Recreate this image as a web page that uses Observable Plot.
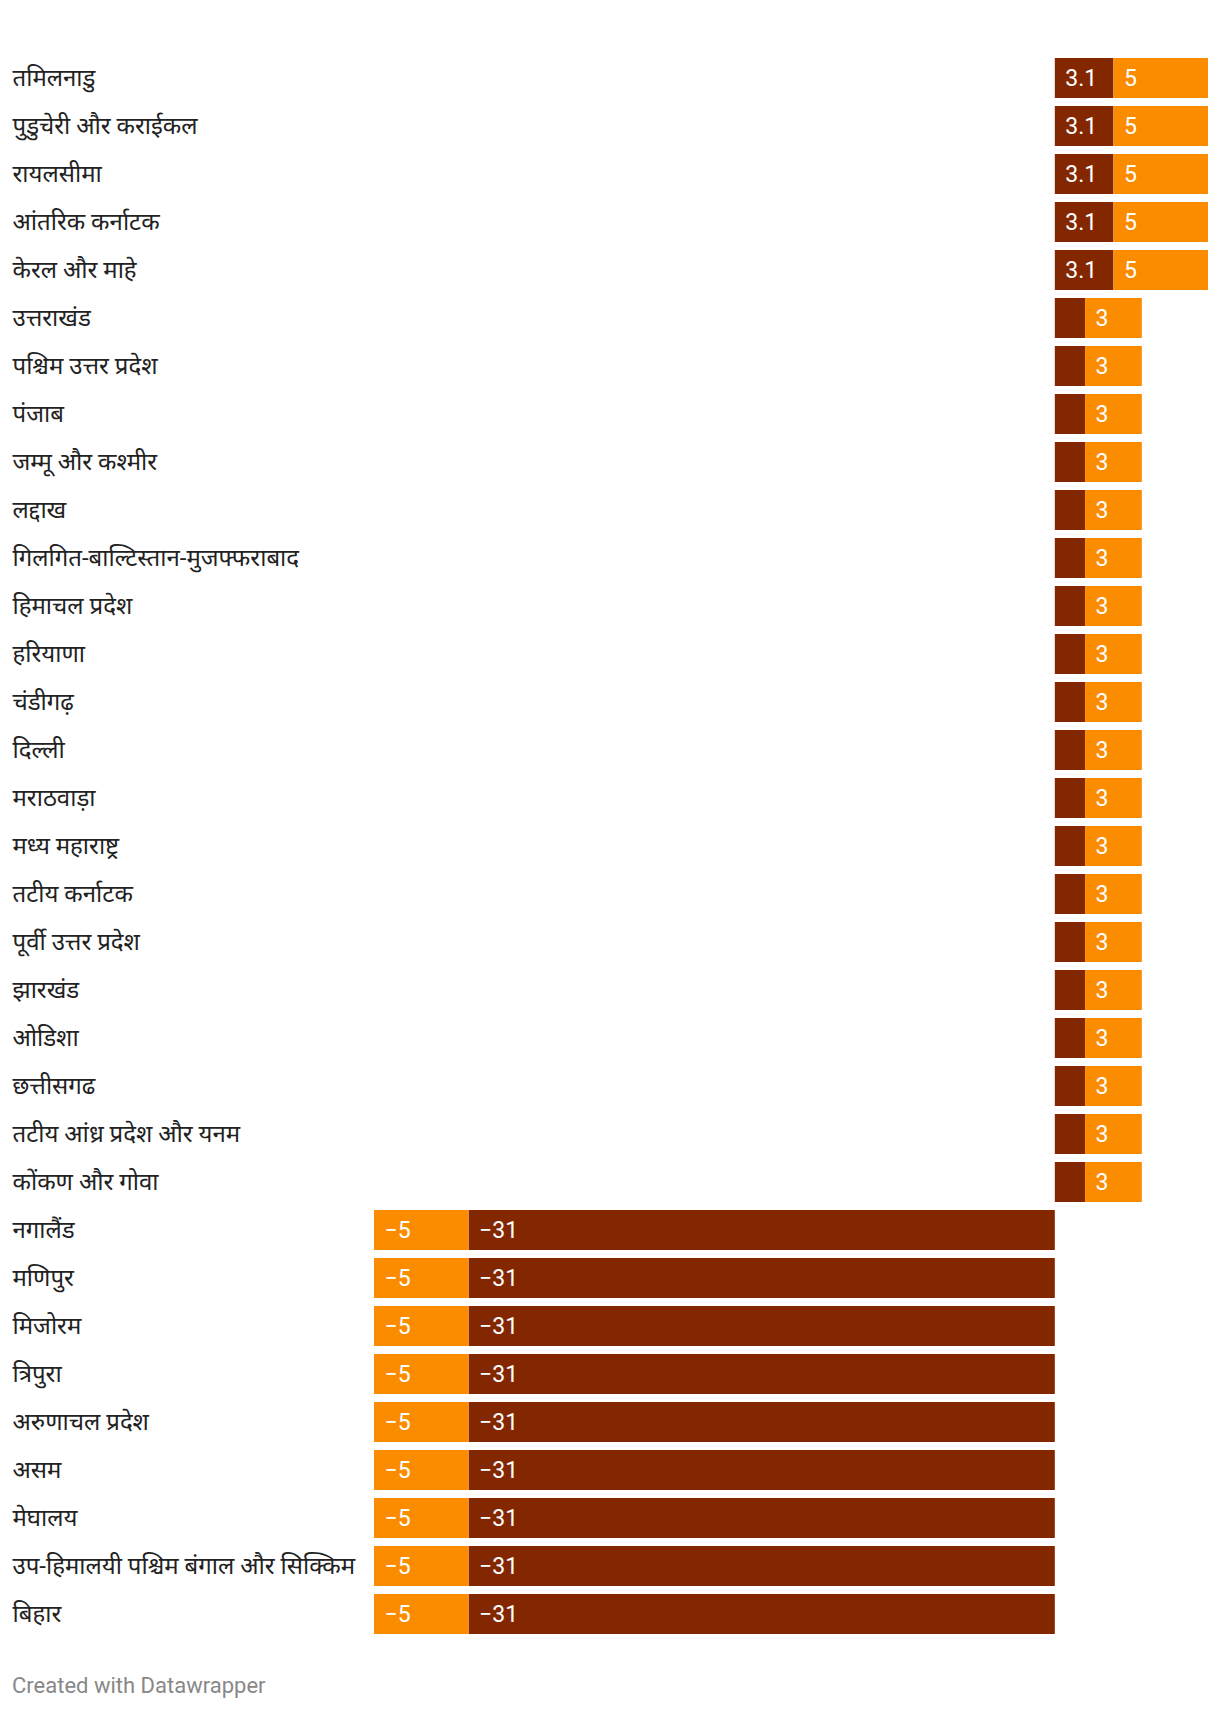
<!DOCTYPE html>
<html><head><meta charset="utf-8">
<script src="https://cdn.jsdelivr.net/npm/d3@7"></script>
<script src="https://cdn.jsdelivr.net/npm/@observablehq/plot@0.6"></script>
<style>
body{margin:0;background:#fff;font-family:Roboto,sans-serif}
#caption{margin:8px 0 0 12px;font-size:22px;line-height:24px;color:#888;font-family:Roboto,sans-serif}
</style>
</head><body><div id="chart"></div><div id="caption">Created with Datawrapper</div>
<script>
const regions = [
  "तमिलनाडु","पुडुचेरी और कराईकल","रायलसीमा","आंतरिक कर्नाटक","केरल और माहे",
  "उत्तराखंड","पश्चिम उत्तर प्रदेश","पंजाब","जम्मू और कश्मीर","लद्दाख",
  "गिलगित-बाल्टिस्तान-मुजफ्फराबाद","हिमाचल प्रदेश","हरियाणा","चंडीगढ़","दिल्ली",
  "मराठवाड़ा","मध्य महाराष्ट्र","तटीय कर्नाटक","पूर्वी उत्तर प्रदेश","झारखंड",
  "ओडिशा","छत्तीसगढ","तटीय आंध्र प्रदेश और यनम","कोंकण और गोवा",
  "नगालैंड","मणिपुर","मिजोरम","त्रिपुरा","अरुणाचल प्रदेश","असम","मेघालय",
  "उप-हिमालयी पश्चिम बंगाल और सिक्किम","बिहार"
];
const darkValues = [3.1,3.1,3.1,3.1,3.1,
  1.6,1.6,1.6,1.6,1.6,1.6,1.6,1.6,1.6,1.6,1.6,1.6,1.6,1.6,1.6,1.6,1.6,1.6,1.6,
  -31,-31,-31,-31,-31,-31,-31,-31,-31];
const orangeValues = [5,5,5,5,5,
  3,3,3,3,3,3,3,3,3,3,3,3,3,3,3,3,3,3,3,
  -5,-5,-5,-5,-5,-5,-5,-5,-5];
const seriesNames = ["dark","orange"];
const seriesColors = ["#832700","#fb8c00"];

const data = regions.flatMap((r,i)=>[
  {region:r, series:seriesNames[0], value:darkValues[i]},
  {region:r, series:seriesNames[1], value:orangeValues[i]}
]);
const fmt = v => String(v).replace("-", "\u2212");
const minLabel = 2;

const chart = Plot.plot({
  width: 1220,
  height: 1666,
  marginTop: 54,
  marginBottom: 28,
  marginLeft: 374,
  marginRight: 12,
  style: {fontFamily: "Roboto, sans-serif", background: "#fff"},
  x: {axis: null, domain: [-36, 8.1]},
  y: {axis: null, domain: regions, paddingInner: 1/6, paddingOuter: 1/12},
  color: {domain: seriesNames, range: seriesColors},
  marks: [
    Plot.barX(data, Plot.stackX({x: "value", y: "region", fill: "series"})),
    Plot.ruleX(regions.filter((r,i)=>darkValues[i] > 0), {x: 0, y: d=>d, stroke: "#fff", strokeOpacity: 0.5, strokeWidth: 1}),
    Plot.text(data, Plot.stackX1({x: "value", y: "region",
      text: d => (d.value > 0 && Math.abs(d.value) >= minLabel) ? fmt(d.value) : "",
      textAnchor: "start", dx: 10, fill: "#fff", fontSize: 23})),
    Plot.text(data, Plot.stackX2({x: "value", y: "region",
      text: d => (d.value < 0 && Math.abs(d.value) >= minLabel) ? fmt(d.value) : "",
      textAnchor: "start", dx: 10, fill: "#fff", fontSize: 23})),
    Plot.text(regions, {y: d=>d, text: d=>d, frameAnchor: "left", textAnchor: "start", dx: -362, fontSize: 24, fill: "#222",
      fontFamily: "Roboto, 'Noto Sans Devanagari', sans-serif"})
  ]
});
document.getElementById("chart").appendChild(chart);
</script>
</body></html>
